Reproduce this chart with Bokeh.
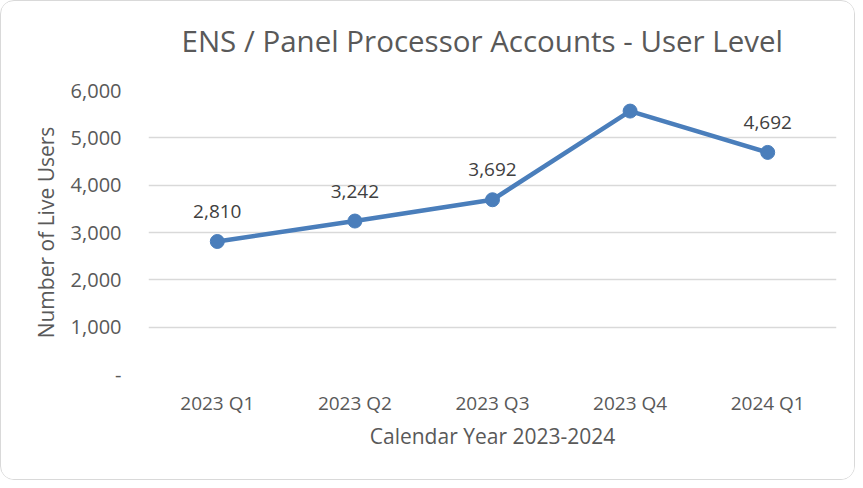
from bokeh.plotting import figure
from bokeh.models import ColumnDataSource, FixedTicker, Range1d, Title
from bokeh.core.properties import value
from bokeh.embed import file_html
from bokeh.resources import INLINE

quarters = ["2023 Q1", "2023 Q2", "2023 Q3", "2023 Q4", "2024 Q1"]
users = [2810, 3242, 3692, 5565, 4692]
user_labels = ["2,810", "3,242", "3,692", "5,565", "4,692"]
y_ticks = [0, 1000, 2000, 3000, 4000, 5000, 6000]
y_tick_labels = ["-", "1,000", "2,000", "3,000", "4,000", "5,000", "6,000"]
title_text = "ENS / Panel Processor Accounts - User Level"

FONT = "Open Sans"
TXT = "#595959"
LINE = "#4A7EBB"

src = ColumnDataSource(dict(q=quarters, u=users, lab=user_labels))

p = figure(width=855, height=480, x_range=quarters, y_range=Range1d(0, 6000),
           output_backend="svg", toolbar_location=None, title=None,
           min_border_left=147, min_border_right=20, min_border_top=89, min_border_bottom=107,
           styles={"border": "1.5px solid #d9d9d9", "border-radius": "14px", "overflow": "hidden"})
p.x_range.range_padding = 0
p.outline_line_color = None

# spacer between frame and title (first one added sits closest to the frame)
p.add_layout(Title(text=" ", text_font_size="1px", standoff=27), "above")
p.add_layout(Title(text=title_text, align="left", offset=33, text_font=FONT,
                   text_font_size="29.5px", text_font_style="normal",
                   text_color=TXT, standoff=0), "above")

p.line("q", "u", source=src, line_color=LINE, line_width=4.5)
p.scatter("q", "u", source=src, size=14, fill_color=LINE, line_color=LINE)
p.text("q", "u", text="lab", source=src, y_offset=-30, text_align="center",
       text_baseline="middle", text_font=value(FONT), text_font_size="19px", text_color="#404040")

p.yaxis.ticker = FixedTicker(ticks=y_ticks)
p.yaxis.major_label_overrides = {t: l for t, l in zip(y_ticks, y_tick_labels)}
for ax in (p.xaxis, p.yaxis):
    ax.axis_line_color = None
    ax.major_tick_line_color = None
    ax.minor_tick_line_color = None
    ax.major_label_text_font = FONT
    ax.major_label_text_color = TXT
    ax.axis_label_text_font = FONT
    ax.axis_label_text_font_size = "21px"
    ax.axis_label_text_font_style = "normal"
    ax.axis_label_text_color = TXT
p.yaxis.major_label_text_font_size = "20px"
p.xaxis.major_label_text_font_size = "19px"
p.yaxis.major_label_standoff = 21
p.xaxis.major_label_standoff = 9
p.yaxis.axis_label = "Number of Live Users"
p.xaxis.axis_label = "Calendar Year 2023-2024"
p.yaxis.axis_label_standoff = 8
p.xaxis.axis_label_standoff = 3

p.xgrid.grid_line_color = None
p.ygrid.grid_line_color = "#d9d9d9"
p.ygrid.grid_line_width = 1.3

open("out.html", "w").write(file_html(p, INLINE))
